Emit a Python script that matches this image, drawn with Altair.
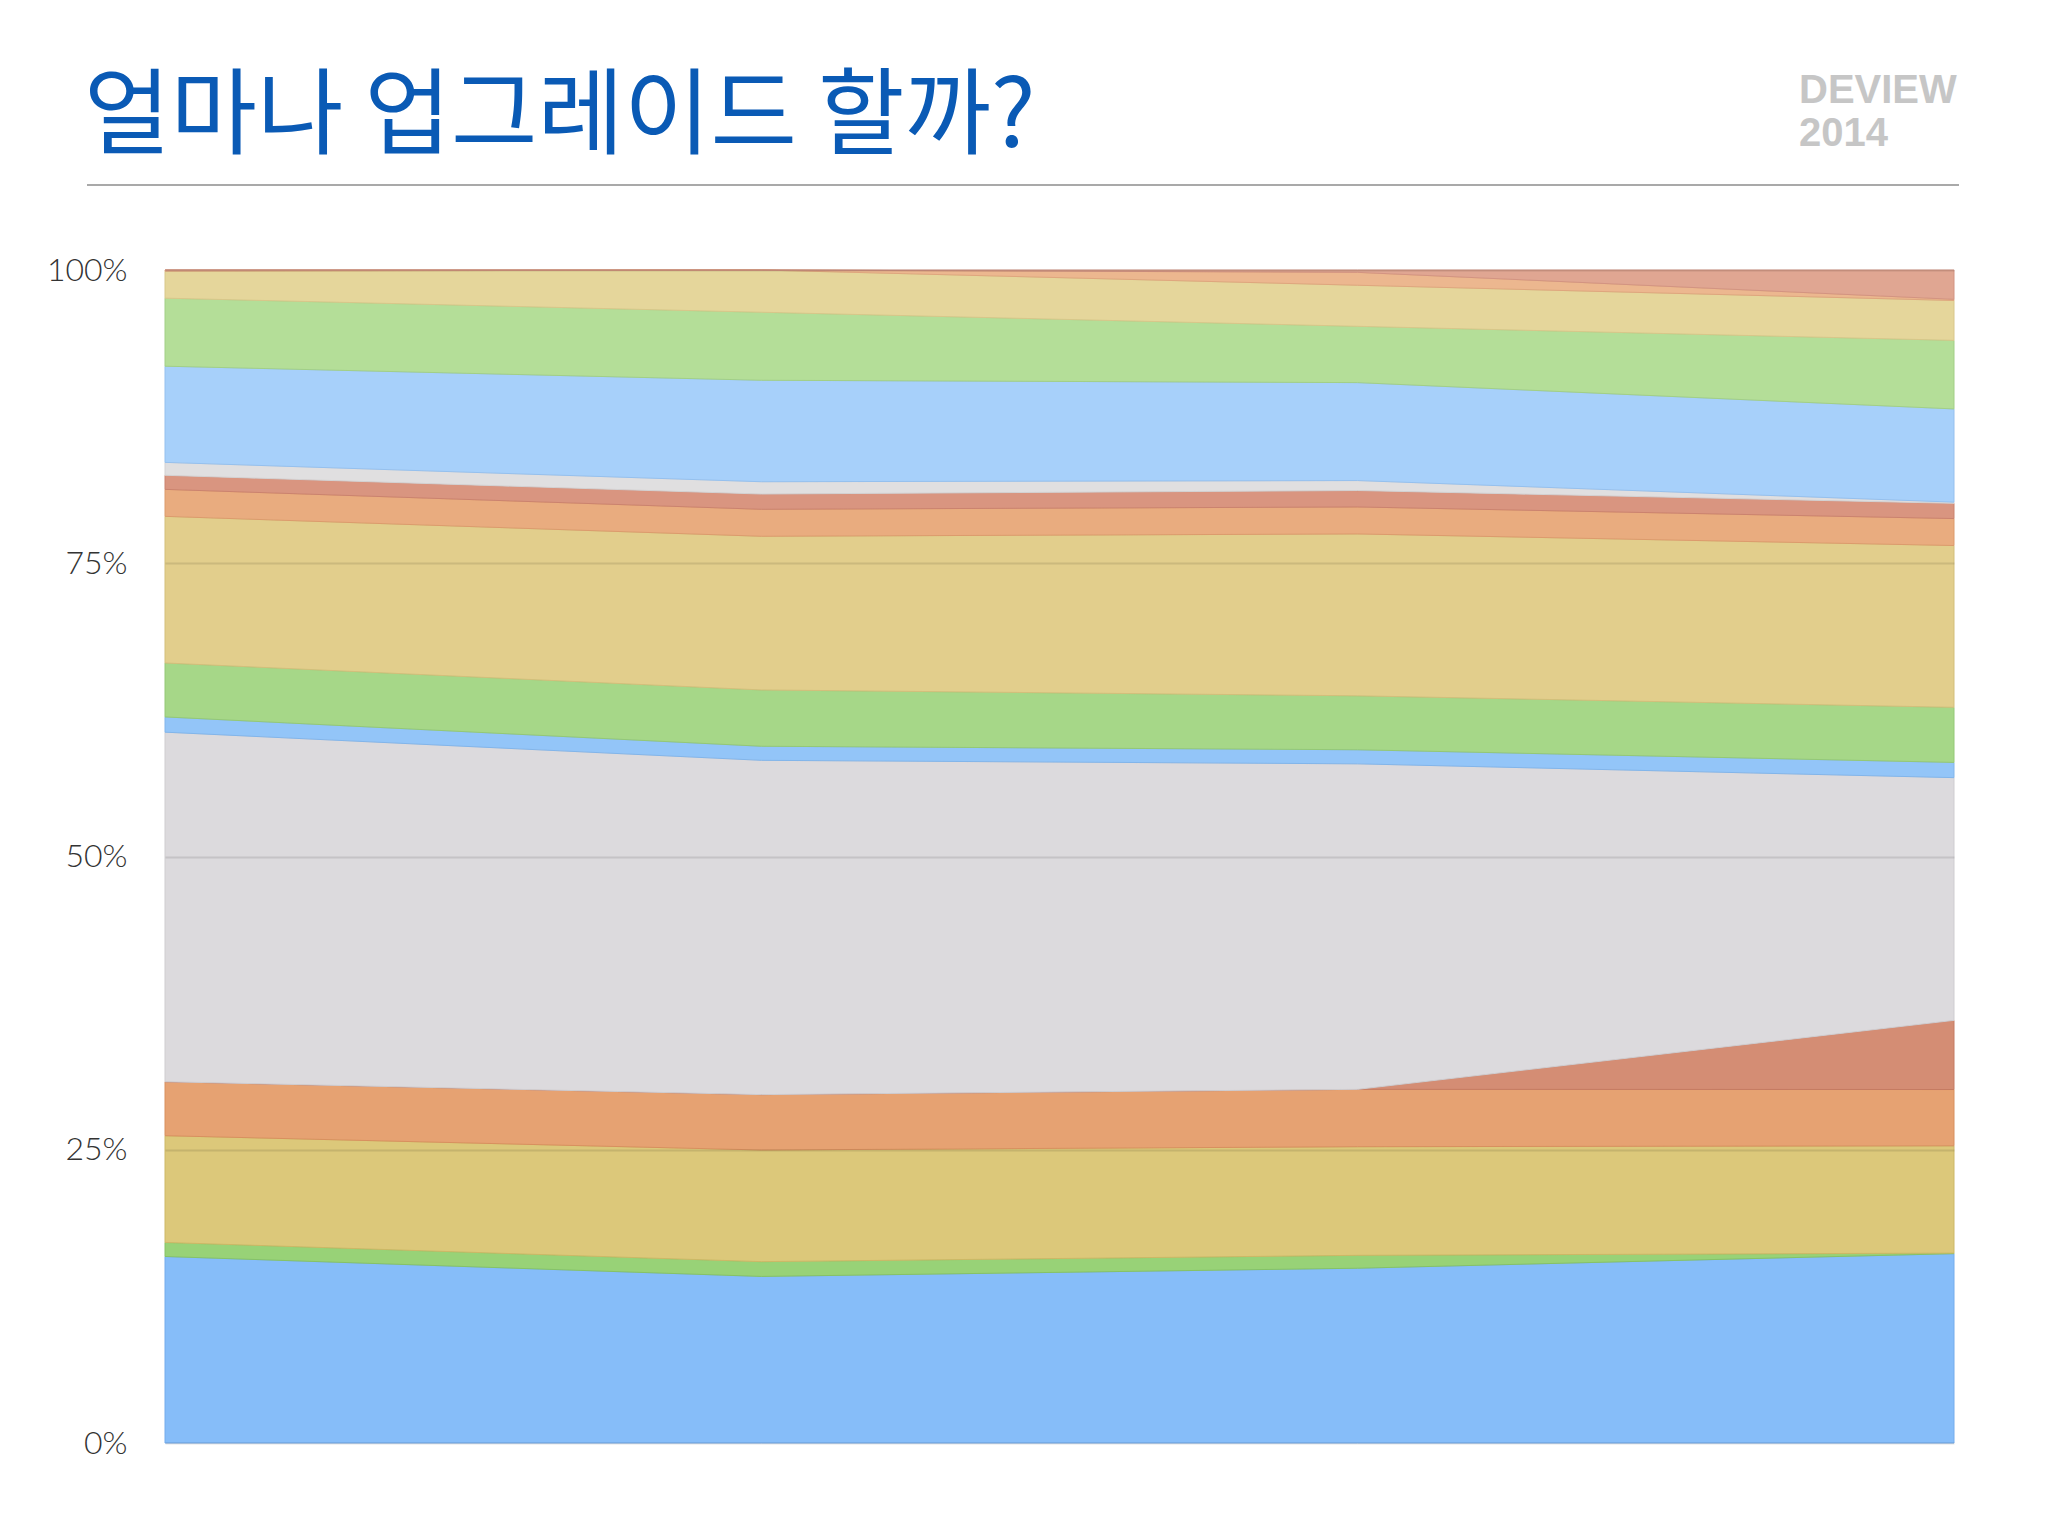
import altair as alt
import pandas as pd

# ---- data (share of users per version, % at four points in time) ----
periods = [0, 1, 2, 3]
series_names = ["v01", "v02", "v03", "v04", "v05", "v06", "v07", "v08", "v09",
                "v10", "v11", "v12", "v13", "v14", "v15", "v16", "v17"]
v01 = [15.9, 14.2, 14.9, 16.15]
v02 = [1.2, 1.26, 1.1, 0.05]
v03 = [9.1, 9.52, 9.26, 9.15]
v04 = [4.6, 4.72, 4.89, 4.8]
v05 = [0.0, 0.0, 0.0, 5.9]
v06 = [29.8, 28.5, 27.75, 20.7]
v07 = [1.3, 1.2, 1.2, 1.3]
v08 = [4.6, 4.8, 4.6, 4.7]
v09 = [12.5, 13.1, 13.8, 13.8]
v10 = [2.3, 2.3, 2.3, 2.3]
v11 = [1.2, 1.3, 1.4, 1.3]
v12 = [1.1, 1.05, 0.85, 0.1]
v13 = [8.2, 8.65, 8.35, 7.95]
v14 = [5.8, 5.8, 4.8, 5.85]
v15 = [2.3, 3.6, 3.5, 3.4]
v16 = [0.1, 0.0, 1.1, 0.1]
v17 = [0.0, 0.0, 0.2, 2.5]
series_values = [v01, v02, v03, v04, v05, v06, v07, v08, v09,
                 v10, v11, v12, v13, v14, v15, v16, v17]

fill_colors = ["#86bdf9", "#98d277", "#dcc87a", "#e6a272", "#d48d74", "#dcdadd",
               "#93c5f8", "#a6d788", "#e2ce8c", "#e9ac7f", "#d99580", "#e0dfe0",
               "#a7d0fa", "#b4de98", "#e5d69b", "#ecb78f", "#e0a692"]
stroke_colors = ["#74acec", "#86c266", "#cdb866", "#d8905f", "#c57b62", "#cfcdd0",
                 "#82b5ea", "#94c876", "#d3bf7b", "#dc9b6d", "#cb836f", "#d3d2d3",
                 "#95c0ee", "#a2cf86", "#d8c78a", "#dfa67e", "#d39482"]

title_text = ["얼마나 업그레이드 할까?"]
logo_lines = ["DEVIEW", "2014"]
y_ticks = [0, 0.25, 0.5, 0.75, 1.0]

rows = []
for i, (name, vals) in enumerate(zip(series_names, series_values)):
    for p, v in zip(periods, vals):
        rows.append({"period": p, "series": name, "order": i, "value": v})
df = pd.DataFrame(rows)

W, H = 1789, 1173

area = alt.Chart(df).mark_area(strokeWidth=1, interpolate="linear").encode(
    x=alt.X("period:Q", scale=alt.Scale(domain=[0, 3], nice=False, zero=False), axis=None),
    y=alt.Y("value:Q", stack="normalize",
            scale=alt.Scale(domain=[0, 1], nice=False),
            axis=alt.Axis(format=".0%", values=y_ticks, title=None, grid=True,
                          gridColor="#000000", gridOpacity=0.1, gridWidth=2,
                          domain=False, ticks=False, labelFont="Lato",
                          labelFontWeight=300, labelFontSize=32, labelColor="#333333",
                          labelPadding=38, zindex=1)),
    color=alt.Color("series:N", scale=alt.Scale(domain=series_names, range=fill_colors), legend=None),
    stroke=alt.Stroke("series:N", scale=alt.Scale(domain=series_names, range=stroke_colors), legend=None),
    order=alt.Order("order:Q"),
)

title = alt.Chart(pd.DataFrame({"t": title_text})).mark_text(
    align="left", baseline="alphabetic", fontSize=94, color="#0a5ab5",
    font="Noto Sans CJK KR"
).encode(x=alt.value(-81), y=alt.value(-123), text="t:N")

rule = alt.Chart(pd.DataFrame({"a": [0]})).mark_rule(color="#8c8c8c", strokeWidth=1.5).encode(
    x=alt.value(-78), x2=alt.value(1794), y=alt.value(-85)
)

logo1 = alt.Chart(pd.DataFrame({"t": [logo_lines[0]]})).mark_text(
    align="left", baseline="alphabetic", fontSize=40, fontWeight="bold",
    color="#c6c6c6", font="Liberation Sans"
).encode(x=alt.value(1634), y=alt.value(-167), text="t:N")

logo2 = alt.Chart(pd.DataFrame({"t": [logo_lines[1]]})).mark_text(
    align="left", baseline="alphabetic", fontSize=40, fontWeight="bold",
    color="#c6c6c6", font="Liberation Sans"
).encode(x=alt.value(1634), y=alt.value(-124), text="t:N")

chart = alt.layer(area, title, rule, logo1, logo2).properties(
    width=W, height=H,
    autosize=alt.AutoSizeParams(type="none"),
    padding={"left": 157, "top": 262, "right": 10, "bottom": 40},
    background="white",
).configure_view(stroke=None)

chart.save("out.html", embed_options={"renderer": "svg", "actions": False})
